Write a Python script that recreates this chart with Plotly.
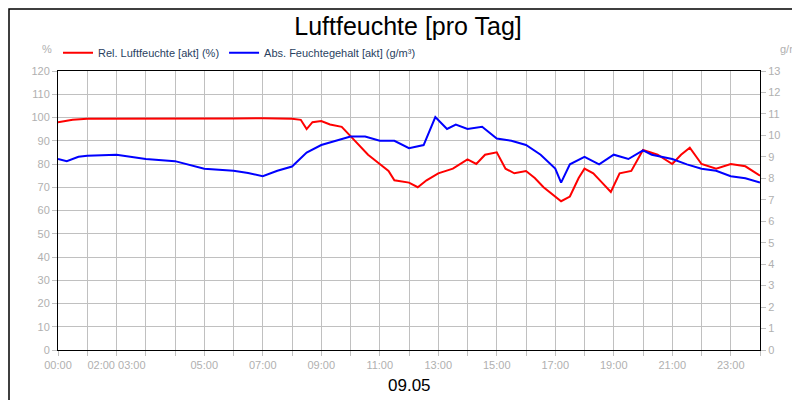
import plotly.graph_objects as go

# hours of the day
rel_hours = [0, 0.5, 1, 2, 3, 4, 5, 6, 7, 8, 8.3, 8.5, 8.7, 9, 9.3, 9.7, 10, 10.3, 10.6, 11, 11.3, 11.5,
             12, 12.3, 12.6, 13, 13.5, 14, 14.3, 14.6, 15, 15.3, 15.6, 16, 16.3, 16.6, 17, 17.2, 17.5,
             17.8, 18, 18.3, 18.6, 18.9, 19.2, 19.6, 20, 20.5, 21, 21.3, 21.6, 22, 22.5, 23, 23.5, 24]
rel_hum = [98, 99, 99.5, 99.5, 99.5, 99.3, 99.4, 99.6, 99.7, 99.5, 99, 95, 98, 98.5, 97, 96, 92, 88, 84,
           80, 77, 73, 72, 70, 73, 76, 78, 82, 80, 84, 85, 78, 76, 77, 74, 70, 66, 64, 66,
           74, 78, 76, 72, 68, 76, 77, 86, 84, 80, 84, 87, 80, 78, 80, 79, 75]

abs_hours = [0, 0.3, 0.7, 1, 2, 2.5, 3, 4, 5, 6, 6.5, 7, 7.5, 8, 8.5, 9, 9.5, 10, 10.5, 11, 11.5, 12,
             12.5, 12.9, 13.3, 13.6, 14, 14.5, 15, 15.5, 16, 16.5, 17, 17.2, 17.5, 18, 18.5, 19, 19.5,
             20, 20.3, 21, 21.5, 22, 22.5, 23, 23.5, 24]
abs_hum = [8.9, 8.8, 9.0, 9.05, 9.1, 9.0, 8.9, 8.8, 8.45, 8.35, 8.25, 8.1, 8.35, 8.55, 9.2, 9.55, 9.75,
           9.95, 9.95, 9.75, 9.75, 9.4, 9.55, 10.85, 10.3, 10.5, 10.3, 10.4, 9.85, 9.75, 9.55, 9.1,
           8.45, 7.8, 8.65, 9.0, 8.65, 9.1, 8.9, 9.3, 9.1, 8.9, 8.65, 8.45, 8.35, 8.1, 8.0, 7.8]

hour_ticks = list(range(25))
hour_labels = ["00:00", "", "02:00 03:00", "", "", "05:00", "", "07:00", "", "09:00", "", "11:00", "",
               "13:00", "", "15:00", "", "17:00", "", "19:00", "", "21:00", "", "23:00", ""]

font = "Liberation Sans, Arial"
tickfont = dict(color="#b0b0b0", size=11, family=font)
fig = go.Figure()
fig.add_trace(go.Scatter(x=rel_hours, y=rel_hum, mode="lines", line=dict(color="#ff0000", width=2),
                         name="Rel. Luftfeuchte [akt] (%)"))
fig.add_trace(go.Scatter(x=abs_hours, y=abs_hum, mode="lines", line=dict(color="#0000ff", width=2),
                         name="Abs. Feuchtegehalt [akt] (g/m³)", yaxis="y2"))

fig.update_xaxes(range=[0, 24], tickvals=hour_ticks, ticktext=hour_labels, tickangle=0, showgrid=True, gridcolor="#c0c0c0",
                 showline=True, linecolor="black", mirror=True, ticks="outside", ticklen=5, tickcolor="#c0c0c0",
                 tickfont=tickfont, zeroline=False, automargin=False)
fig.update_layout(
    width=800, height=400, paper_bgcolor="white", plot_bgcolor="white",
    margin=dict(l=50, r=48, t=63, b=58, autoexpand=False),
    title=dict(text="Luftfeuchte [pro Tag]", x=0.5, xanchor="center", y=0.955, yref="container", yanchor="middle",
               font=dict(size=25, family=font, color="black")),
    yaxis=dict(range=[0, 120], dtick=10, showgrid=True, gridcolor="#c0c0c0", showline=True, linecolor="black",
               ticks="outside", ticklen=5, tickcolor="#c0c0c0", tickfont=tickfont, zeroline=False, automargin=False),
    yaxis2=dict(range=[0, 13], dtick=1, overlaying="y", side="right", showgrid=False, showline=True, linecolor="black",
                ticks="outside", ticklen=5, tickcolor="#c0c0c0", tickfont=tickfont, zeroline=False, automargin=False),
    legend=dict(orientation="h", x=0.0, y=1.065, xanchor="left", yanchor="middle", font=dict(size=11, family=font),
                itemwidth=30, bgcolor="rgba(0,0,0,0)"),
    shapes=[dict(type="rect", xref="paper", yref="paper", x0=-0.0698, x1=1.067, y0=-0.204, y1=1.222,
                 line=dict(color="black", width=1.5))],
    annotations=[
        dict(text="%", xref="paper", yref="paper", x=-0.005, y=1.05, xanchor="right", yanchor="bottom", showarrow=False,
             font=tickfont),
        dict(text="g/m³", xref="paper", yref="paper", x=1.062, y=1.05, xanchor="right", yanchor="bottom", showarrow=False,
             font=tickfont),
        dict(text="09.05", xref="paper", yref="paper", x=0.5, y=-0.129, xanchor="center", yanchor="middle", showarrow=False,
             font=dict(color="black", size=17, family=font)),
    ],
)
fig.write_html("out.html")
